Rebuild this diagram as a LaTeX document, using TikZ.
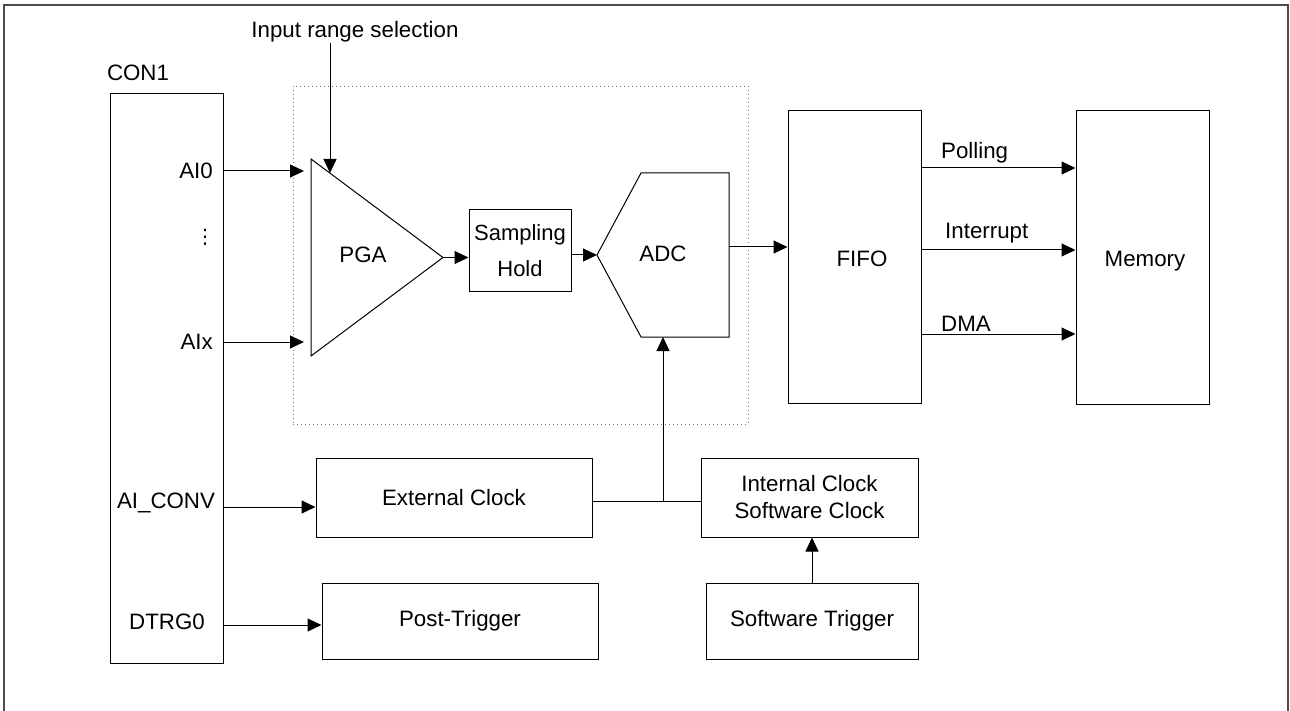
\documentclass[tikz,border=0pt]{standalone}
\usepackage{fontspec}
\setmainfont{Liberation Sans}
\newfontfamily\symfont{DejaVu Sans}
\usetikzlibrary{arrows.meta}
\newcommand{\dfont}{\fontsize{22.3}{26}\selectfont}
\begin{document}
\begin{tikzpicture}[x=1pt,y=-1pt,
  box/.style={draw, line width=1pt, inner sep=0pt, align=center, font=\dfont},
  conn/.style={line width=1pt, -{Triangle[length=14pt,width=13pt]}},
  plain/.style={line width=1pt},
  lbl/.style={font=\dfont, inner sep=0pt},
]
\useasboundingbox (0,0) rectangle (1290,711);
\draw[black!70, line width=2pt] (4,711) -- (4,5) -- (1288,5) -- (1288,711);

% connector block
\node[box, minimum width=113pt, minimum height=569pt] (con1) at (166.5,378.5) {};
\node[lbl] (con1l) at (138,73) {CON1};
\node[lbl, anchor=east] (ai0) at (213,171) {AI0};
\node[font=\symfont\fontsize{20}{20}\selectfont, inner sep=0pt] (dots) at (205,237) {⋮};
\node[lbl, anchor=east] (aix) at (213,342) {AIx};
\node[lbl] (aiconv) at (166,503) {AI\_CONV};
\node[lbl] (dtrg) at (167,622) {DTRG0};

% dotted group
\node[draw=black!55, line width=0.8pt, dash pattern=on 1pt off 3pt, minimum width=455pt, minimum height=338pt, inner sep=0pt] (grp) at (520.5,255) {};

% PGA
\coordinate (pgaT) at (311,159);
\coordinate (pgaB) at (311,356);
\coordinate (pgaO) at (443,257.5);
\draw[plain] (pgaT) -- (pgaO) -- (pgaB) -- cycle;
\node[lbl] (pga) at (363,255) {PGA};
\coordinate (pgaIn1) at (304,171);
\coordinate (pgaIn2) at (304,342);
\coordinate (pgaCtl) at (330,173);

\node[lbl] (irs) at (355,32) {Input range selection};
\draw[conn] (irs.south -| pgaCtl) -- (pgaCtl);

% sampling hold
\node[box, minimum width=102pt, minimum height=82pt, font=\fontsize{22}{36}\selectfont] (sh) at (520,251) {Sampling\\Hold};

% ADC
\coordinate (adcL) at (597,255);
\coordinate (adcTL) at (641,173);
\coordinate (adcTR) at (729,173);
\coordinate (adcBR) at (729,337);
\coordinate (adcBL) at (641,337);
\draw[plain] (adcL) -- (adcTL) -- (adcTR) -- (adcBR) -- (adcBL) -- cycle;
\node[lbl] (adc) at (663,254) {ADC};
\coordinate (adcIn) at (663,337);
\coordinate (adcOut) at (729,247);

% FIFO and memory
\node[box, minimum width=133pt, minimum height=292pt] (fifo) at (854.5,257) {};
\node[lbl] (fifol) at (862,259) {FIFO};
\node[box, minimum width=133pt, minimum height=293pt] (mem) at (1142.5,257.5) {};
\node[lbl] (meml) at (1145,261) {Memory};

\node[lbl, anchor=west] (poll) at (941,153) {Polling};
\node[lbl, anchor=west] (intr) at (945,233) {Interrupt};
\node[lbl, anchor=west] (dma) at (941,324) {DMA};

% bottom blocks
\node[box, minimum width=276pt, minimum height=79pt] (ext) at (454,497.5) {External Clock};
\node[box, minimum width=217pt, minimum height=79pt, font=\fontsize{22.3}{27}\selectfont] (intc) at (809.5,497.5) {Internal Clock\\Software Clock};
\node[box, minimum width=276pt, minimum height=76pt] (post) at (460,621) {Post-Trigger};
\node[box, minimum width=212pt, minimum height=76pt] (swt) at (812,621) {Software Trigger};
\coordinate (jn) at (663,501);

% connectors
\draw[conn] (con1.east |- pgaIn1) -- (pgaIn1);
\draw[conn] (con1.east |- pgaIn2) -- (pgaIn2);
\draw[conn] (pgaO) -- (sh.west |- pgaO);
\draw[conn] (sh.east |- adcL) -- (adcL);
\draw[conn] (adcOut) -- (adcOut -| fifo.west);
\draw[conn] (fifo.east |- 0,168) -- (mem.west |- 0,168);
\draw[conn] (fifo.east |- 0,250) -- (mem.west |- 0,250);
\draw[conn] (fifo.east |- 0,334) -- (mem.west |- 0,334);
\draw[plain] (ext.east |- jn) -- (intc.west |- jn);
\draw[conn] (jn) -- (adcIn);
\draw[conn] (swt.north) -- (swt.north |- intc.south);
\draw[conn] (con1.east |- 0,507) -- (ext.west |- 0,507);
\draw[conn] (con1.east |- 0,625) -- (post.west |- 0,625);
\end{tikzpicture}
\end{document}
